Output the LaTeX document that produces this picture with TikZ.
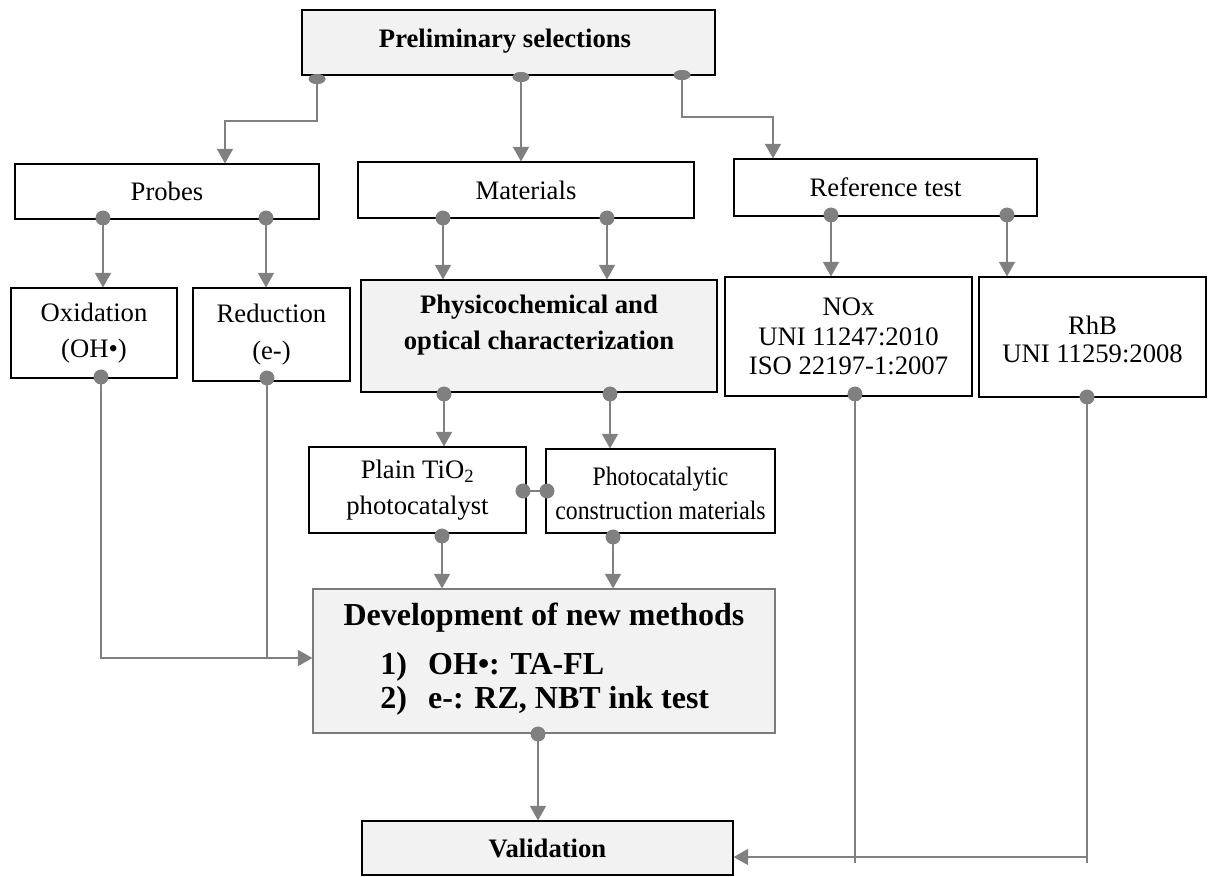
\documentclass[tikz,border=0pt]{standalone}
\usepackage{fontspec}
\setmainfont{Liberation Serif}
\usetikzlibrary{arrows.meta,fit,shapes.geometric,calc}
\definecolor{linegray}{HTML}{808080}
\definecolor{boxfill}{HTML}{F2F2F2}
\definecolor{devborder}{HTML}{7A7A7A}
\begin{document}
\begin{tikzpicture}[x=0.75pt,y=-0.75pt,
  box/.style={draw=black, line width=0.8pt, inner sep=0pt},
  shaded/.style={box, fill=boxfill},
  conn/.style={draw=linegray, line width=1.5pt},
  arr/.style={conn, -{Triangle[length=11pt,width=12pt]}},
  dot/.style={circle, fill=linegray, inner sep=0pt, minimum size=11pt},
  flatdot/.style={ellipse, fill=linegray, inner sep=0pt,
                  minimum width=12.5pt, minimum height=7.5pt},
  txt/.style={inner sep=0pt, align=center, font=\fontsize{20}{24}\selectfont},
  boldtxt/.style={txt, font=\bfseries\fontsize{20}{24}\selectfont},
  bigtxt/.style={txt, font=\bfseries\fontsize{24}{28}\selectfont}]

\useasboundingbox (0,0) rectangle (1216,876);

% ---------- boxes ----------
\node[shaded, fit={(302,10) (715,75)}] (prelim) {};
\node[box, fit={(15,164) (319,219)}] (probes) {};
\node[box, fit={(358,162) (694,218)}] (materials) {};
\node[box, fit={(734,159) (1037,216)}] (reftest) {};
\node[box, fit={(11,288) (177,378)}] (oxid) {};
\node[box, fit={(193,288) (350,381)}] (reduc) {};
\node[shaded, fit={(361,280) (717,392)}] (physchem) {};
\node[box, fit={(725,277) (972,396)}] (nox) {};
\node[box, fit={(979,277) (1206,397)}] (rhb) {};
\node[box, fit={(309,447) (526,533)}] (plain) {};
\node[box, fit={(546,449) (775,533)}] (photo) {};
\node[shaded, draw=devborder, fit={(313,589) (775,733)}] (dev) {};
\node[shaded, fit={(362,821) (733,875)}] (valid) {};

% ---------- box texts ----------
\node[boldtxt] (prelimtext) at (505,41) {Preliminary selections};
\node[txt] (probestext) at (probes.center) {Probes};
\node[txt] (materialstext) at (materials.center) {Materials};
\node[txt] (reftesttext) at (reftest.center) {Reference test};
\node[txt, font=\fontsize{20}{27.5}\selectfont] (oxidtext) at (oxid.center)
  {Oxidation\\(OH•)};
\node[txt, font=\fontsize{20}{27.5}\selectfont] (reductext) at (reduc.center)
  {Reduction\\(e-)};
\node[boldtxt, font=\bfseries\fontsize{20}{27}\selectfont] (physchemtext) at (539,325)
  {Physicochemical and\\optical characterization};
\node[txt, font=\fontsize{20}{22}\selectfont] (noxtext) at (nox.center)
  {NOx\\UNI 11247:2010\\ISO 22197-1:2007};
\node[txt, font=\fontsize{20}{21}\selectfont] (rhbtext) at (1092.5,339)
  {RhB\\UNI 11259:2008};
\node[txt, font=\fontsize{20}{27}\selectfont] (plaintext) at (plain.center)
  {Plain TiO\textsubscript{2}\\photocatalyst};
% narrower setting so the long line stays inside its box
\node[txt, font=\fontsize{20}{25.5}\selectfont, xscale=0.89, transform shape]
  (phototext) at (660.5,493) {Photocatalytic\\construction materials};
\node[bigtxt] (devtitle) at (544,618) {Development of new methods};
\node[bigtxt, anchor=west] (devone) at (380,667) {\makebox[36pt][l]{1)}OH•: TA-FL};
\node[bigtxt, anchor=west] (devtwo) at (380,701) {\makebox[36pt][l]{2)}e-: RZ, NBT ink test};
\node[boldtxt] (validtext) at (valid.center) {Validation};

% ---------- connector end dots ----------
\node[flatdot] (dpa) at (317,79) {};
\node[flatdot] (dpb) at (521,77) {};
\node[flatdot] (dpc) at (682,75) {};
\node[dot] (dpr1) at (103,218) {};
\node[dot] (dpr2) at (266,218) {};
\node[dot] (dma1) at (443,218) {};
\node[dot] (dma2) at (607,218) {};
\node[dot] (dre1) at (831,215) {};
\node[dot] (dre2) at (1007,215) {};
\node[dot] (dox) at (101,377) {};
\node[dot] (dred) at (267,378) {};
\node[dot] (dph1) at (444,394) {};
\node[dot] (dph2) at (610,394) {};
\node[dot] (dnox) at (855,394) {};
\node[dot] (drhb) at (1087,397) {};
\node[dot] (dplr) at (523,491) {};
\node[dot] (dphl) at (547,491) {};
\node[dot] (dplb) at (442,536) {};
\node[dot] (dphb) at (613,537) {};
\node[dot] (ddev) at (538,734) {};

% ---------- bend and level coordinates ----------
\coordinate (bendL) at (225,121);
\coordinate (bendR) at (773,117);
\coordinate (joinY) at (0,658);
\coordinate (floorY) at (0,863);
\coordinate (feedY) at (0,857);

% ---------- connectors ----------
\draw[arr] (dpa.center) |- (bendL) -- (bendL |- probes.north);
\draw[arr] (dpb.center) -- (dpb.center |- materials.north);
\draw[arr] (dpc.center) |- (bendR) -- (bendR |- reftest.north);

\draw[arr] (dpr1.center) -- (dpr1.center |- oxid.north);
\draw[arr] (dpr2.center) -- (dpr2.center |- reduc.north);
\draw[arr] (dma1.center) -- (dma1.center |- physchem.north);
\draw[arr] (dma2.center) -- (dma2.center |- physchem.north);
\draw[arr] (dre1.center) -- (dre1.center |- nox.north);
\draw[arr] (dre2.center) -- (dre2.center |- rhb.north);

\draw[arr] (dph1.center) -- (dph1.center |- plain.north);
\draw[arr] (dph2.center) -- (dph2.center |- photo.north);
\draw[conn] (dplr.center) -- (dphl.center);
\draw[arr] (dplb.center) -- (dplb.center |- dev.north);
\draw[arr] (dphb.center) -- (dphb.center |- dev.north);

\draw[arr] (dox.center) |- (dev.west |- joinY);
\draw[conn] (dred.center) -- (dred.center |- joinY);

\draw[arr] (ddev.center) -- (ddev.center |- valid.north);

\draw[conn] (dnox.center) -- (dnox.center |- floorY);
\draw[conn] (drhb.center) -- (drhb.center |- floorY);
\draw[arr] (drhb.center |- feedY) -- (valid.east |- feedY);

% dots drawn again on top of the line starts
\foreach \d in {dpa,dpb,dpc}
  \fill[linegray] (\d.center) ellipse (6.25pt and 3.75pt);
\foreach \d in {dpr1,dpr2,dma1,dma2,dre1,dre2,dox,dred,dph1,dph2,dnox,drhb,dplr,dphl,dplb,dphb,ddev}
  \fill[linegray] (\d.center) circle (5.5pt);
\end{tikzpicture}
\end{document}
